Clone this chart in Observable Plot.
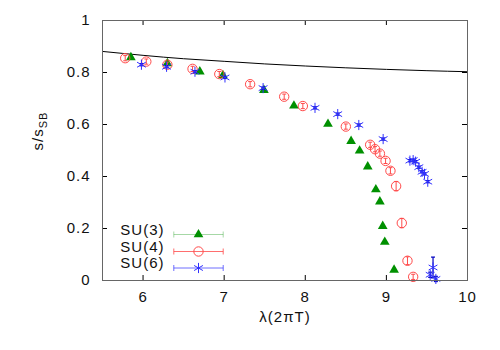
<!DOCTYPE html>
<html>
<head>
<meta charset="utf-8">
<script src="https://cdn.jsdelivr.net/npm/d3@7"></script>
<script src="https://cdn.jsdelivr.net/npm/@observablehq/plot@0.6"></script>
<style>
  html, body { margin: 0; padding: 0; background: white; }
</style>
</head>
<body>
<div id="chart"></div>
<script>
// ---- data ----
const xTicks = [6, 7, 8, 9, 10];
const xTickLabels = ["6", "7", "8", "9", "10"];
const yTicks = [0, 0.2, 0.4, 0.6, 0.8, 1];
const yTickLabels = ["0", "0.2", "0.4", "0.6", "0.8", "1"];

const seriesNames = ["SU(3)", "SU(4)", "SU(6)"];

const su3X = [5.85, 6.30, 6.70, 6.985, 7.49, 7.86, 8.28, 8.565, 8.67, 8.77, 8.87, 8.92, 8.955, 8.98, 9.095];
const su3Y = [0.858, 0.835, 0.803, 0.789, 0.732, 0.672, 0.602, 0.536, 0.499, 0.438, 0.350, 0.303, 0.209, 0.148, 0.041];

const su4X = [5.78, 6.04, 6.30, 6.61, 6.94, 7.32, 7.74, 7.97, 8.50, 8.80, 8.86, 8.92, 8.99, 9.05, 9.12, 9.19, 9.26, 9.33];
const su4Y = [0.855, 0.842, 0.830, 0.814, 0.794, 0.755, 0.707, 0.671, 0.592, 0.522, 0.505, 0.488, 0.460, 0.422, 0.363, 0.221, 0.076, 0.014];
const su4Err = [0.01, 0.01, 0.01, 0.01, 0.01, 0.01, 0.01, 0.01, 0.01, 0.01, 0.01, 0.01, 0.01, 0.012, 0.018, 0.018, 0.015, 0.01];

const su6X = [5.98, 6.29, 6.64, 7.01, 7.48, 8.12, 8.40, 8.66, 8.96, 9.29, 9.33, 9.36, 9.40, 9.44, 9.47, 9.51, 9.54, 9.575, 9.61];
const su6Y = [0.830, 0.822, 0.803, 0.781, 0.740, 0.664, 0.640, 0.598, 0.544, 0.461, 0.463, 0.457, 0.436, 0.418, 0.410, 0.380, 0.022, 0.050, 0.006];
const su6Err = [0.004, 0.004, 0.004, 0.004, 0.004, 0.004, 0.004, 0.004, 0.004, 0.004, 0.004, 0.004, 0.004, 0.004, 0.004, 0.004, 0.01, 0.04, 0.01];

// strong-coupling curve
const curveX = [5.5, 6, 6.5, 7, 7.5, 8, 8.5, 9, 9.5, 10];
const curveY = [0.881, 0.866, 0.853, 0.843, 0.833, 0.825, 0.818, 0.812, 0.807, 0.803];

// ---- build tables ----
const su3 = su3X.map((x, i) => ({x, y: su3Y[i]}));
const su4 = su4X.map((x, i) => ({x, y: su4Y[i], e: su4Err[i]}));
const su6 = su6X.map((x, i) => ({x, y: su6Y[i], e: su6Err[i]}));
const curve = curveX.map((x, i) => ({x, y: curveY[i]}));

const W = 500, H = 350, mL = 102, mR = 33, mT = 20, mB = 70;
const innerW = W - mL - mR, innerH = H - mT - mB;
const FONT = "'Liberation Sans', Arial, sans-serif";
const FS = 15;
const TXT = "#111";

const green = "#009000", red = "#ff4a4a", blue = "#3030ff";

const cap = {draw(ctx) { ctx.moveTo(-2, 0); ctx.lineTo(2, 0); }};
const legendBar = {draw(ctx) {
  const w = 24.7, c = 3;
  ctx.moveTo(-w, 0); ctx.lineTo(w, 0);
  ctx.moveTo(-w, -c); ctx.lineTo(-w, c);
  ctx.moveTo(w, -c); ctx.lineTo(w, c);
}};

const legendDy = [-46, -29, -12.5];
const legendStyles = [
  {line: green, lineOpacity: 0.35, point: {symbol: "triangle", fill: green, r: 3.6}},
  {line: red, lineOpacity: 0.8, point: {symbol: "circle", fill: "none", stroke: red, r: 4.7}},
  {line: blue, lineOpacity: 0.7, point: {symbol: "asterisk", fill: "none", stroke: blue, r: 4.8}}
];

const legendMarks = seriesNames.flatMap((name, i) => {
  const s = legendStyles[i];
  return [
    Plot.text([name], {frameAnchor: "bottom-left", dx: 62, dy: legendDy[i], textAnchor: "end",
      fontSize: FS, fill: TXT}),
    Plot.dot([0], {frameAnchor: "bottom-left", dx: 96, dy: legendDy[i], symbol: legendBar,
      fill: "none", stroke: s.line, strokeOpacity: s.lineOpacity, strokeWidth: 1}),
    Plot.dot([0], {frameAnchor: "bottom-left", dx: 96, dy: legendDy[i], strokeWidth: 1, ...s.point})
  ];
});

const chart = Plot.plot({
  width: W, height: H,
  marginLeft: mL, marginRight: mR, marginTop: mT, marginBottom: mB,
  style: {fontFamily: FONT, fontSize: FS + "px", background: "white", letterSpacing: "1px", color: TXT},
  x: {domain: [5.5, 10]},
  y: {domain: [0, 1]},
  marks: [
    // axes labels (no tick lines here)
    Plot.axisX({ticks: xTicks, tickSize: 0, tickPadding: 11, fontSize: FS, label: null, fill: TXT,
      tickFormat: (d) => xTickLabels[xTicks.indexOf(d)]}),
    Plot.axisY({ticks: yTicks, tickSize: 0, tickPadding: 12, fontSize: FS, label: null, fill: TXT,
      tickFormat: (d) => yTickLabels[yTicks.indexOf(d)]}),
    // inward mirrored ticks
    Plot.tickX(xTicks, {x: d => d, insetTop: innerH - 5, stroke: "black", strokeWidth: 1}),
    Plot.tickX(xTicks, {x: d => d, insetBottom: innerH - 5, stroke: "black", strokeWidth: 1}),
    Plot.tickY(yTicks, {y: d => d, insetRight: innerW - 5, stroke: "black", strokeWidth: 1}),
    Plot.tickY(yTicks, {y: d => d, insetLeft: innerW - 5, stroke: "black", strokeWidth: 1}),
    // curve
    Plot.line(curve, {x: "x", y: "y", stroke: "black", strokeWidth: 1, curve: "natural"}),
    // SU(3)
    Plot.dot(su3, {x: "x", y: "y", symbol: "triangle", fill: green, r: 3.6}),
    // SU(4) with error bars
    Plot.link(su4, {x1: "x", x2: "x", y1: d => d.y - d.e, y2: d => d.y + d.e, stroke: red, strokeWidth: 1}),
    Plot.dot(su4, {x: "x", y: d => d.y - d.e, symbol: cap, fill: "none", stroke: red, strokeWidth: 1}),
    Plot.dot(su4, {x: "x", y: d => d.y + d.e, symbol: cap, fill: "none", stroke: red, strokeWidth: 1}),
    Plot.dot(su4, {x: "x", y: "y", symbol: "circle", fill: "none", stroke: red, strokeWidth: 1, r: 4.7}),
    // SU(6) with error bars
    Plot.link(su6, {x1: "x", x2: "x", y1: d => d.y - d.e, y2: d => d.y + d.e, stroke: "#0000c0", strokeWidth: 1.2}),
    Plot.dot(su6, {x: "x", y: d => d.y - d.e, symbol: cap, fill: "none", stroke: "#0000c0", strokeWidth: 1.2}),
    Plot.dot(su6, {x: "x", y: d => d.y + d.e, symbol: cap, fill: "none", stroke: "#0000c0", strokeWidth: 1.2}),
    Plot.dot(su6, {x: "x", y: "y", symbol: "asterisk", fill: "none", stroke: blue, strokeWidth: 1, r: 4.8}),
    // frame
    Plot.frame({stroke: "#666", strokeWidth: 1}),
    // axis titles
    Plot.text(["λ(2πT)"], {frameAnchor: "bottom", dy: 41.5, fontSize: FS, fill: TXT}),
    Plot.text(["s/sSB"], {frameAnchor: "left", dx: -64, rotate: -90, fontSize: FS, fill: TXT}),
    ...legendMarks
  ]
});

// subscript for the y-axis title
d3.select(chart).selectAll("text").filter(function () { return this.textContent === "s/sSB"; })
  .each(function () {
    const t = d3.select(this);
    t.text("s/s");
    t.append("tspan").attr("dy", "4").attr("font-size", "11px").text("SB");
  });

document.getElementById("chart").appendChild(chart);
</script>
</body>
</html>
